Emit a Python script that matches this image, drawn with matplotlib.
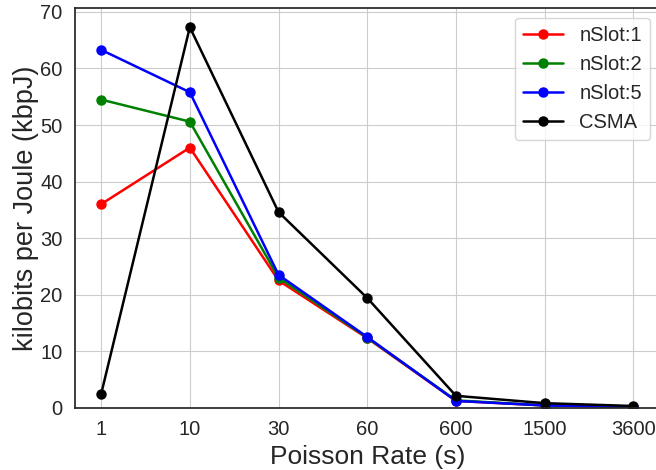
import matplotlib
matplotlib.use('Agg')
import matplotlib.pyplot as plt
import seaborn as sns

# Дані
rates = ['1', '10', '30', '60', '600', '1500', '3600']
nslot1 = [36.0, 46.0, 22.5, 12.3, 1.2, 0.4, 0.2]
nslot2 = [54.5, 50.6, 23.0, 12.4, 1.3, 0.4, 0.2]
nslot5 = [63.3, 55.8, 23.5, 12.5, 1.2, 0.4, 0.2]
csma = [2.4, 67.3, 34.6, 19.4, 2.1, 0.8, 0.3]

sns.set_style('whitegrid')
plt.rcParams['font.family'] = ['Liberation Sans', 'DejaVu Sans']

fig = plt.figure(figsize=(6.56, 4.70), dpi=100)
ax = fig.add_axes([74.5 / 656, 1 - 407.7 / 470, (660 - 74.5) / 656, (407.7 - 8) / 470])

x = range(len(rates))
ax.plot(x, nslot1, 'o-', color='red', label='nSlot:1', lw=1.8, ms=6.5)
ax.plot(x, nslot2, 'o-', color='green', label='nSlot:2', lw=1.8, ms=6.5)
ax.plot(x, nslot5, 'o-', color='blue', label='nSlot:5', lw=1.8, ms=6.5)
ax.plot(x, csma, 'o-', color='black', label='CSMA', lw=1.8, ms=6.5)

ax.set_xticks(list(x))
ax.set_xticklabels(rates)
ax.set_xlim(-0.3, 6.3)
ax.set_ylim(0, 70.7)
ax.tick_params(labelsize=14.5, colors='.15', pad=5)
ax.set_xlabel('Poisson Rate (s)', fontsize=19, color='.15', labelpad=5)
ax.set_ylabel('kilobits per Joule (kbpJ)', fontsize=19.5, color='.15', labelpad=1)
for s in ax.spines.values():
    s.set_color('.15')
    s.set_linewidth(1.25)

ax.legend(fontsize=14.5, loc='upper right', bbox_to_anchor=(650 / 656, 1 - 18 / 470),
          bbox_transform=fig.transFigure, borderaxespad=0, frameon=True)

fig.savefig('out.png', dpi=100)
